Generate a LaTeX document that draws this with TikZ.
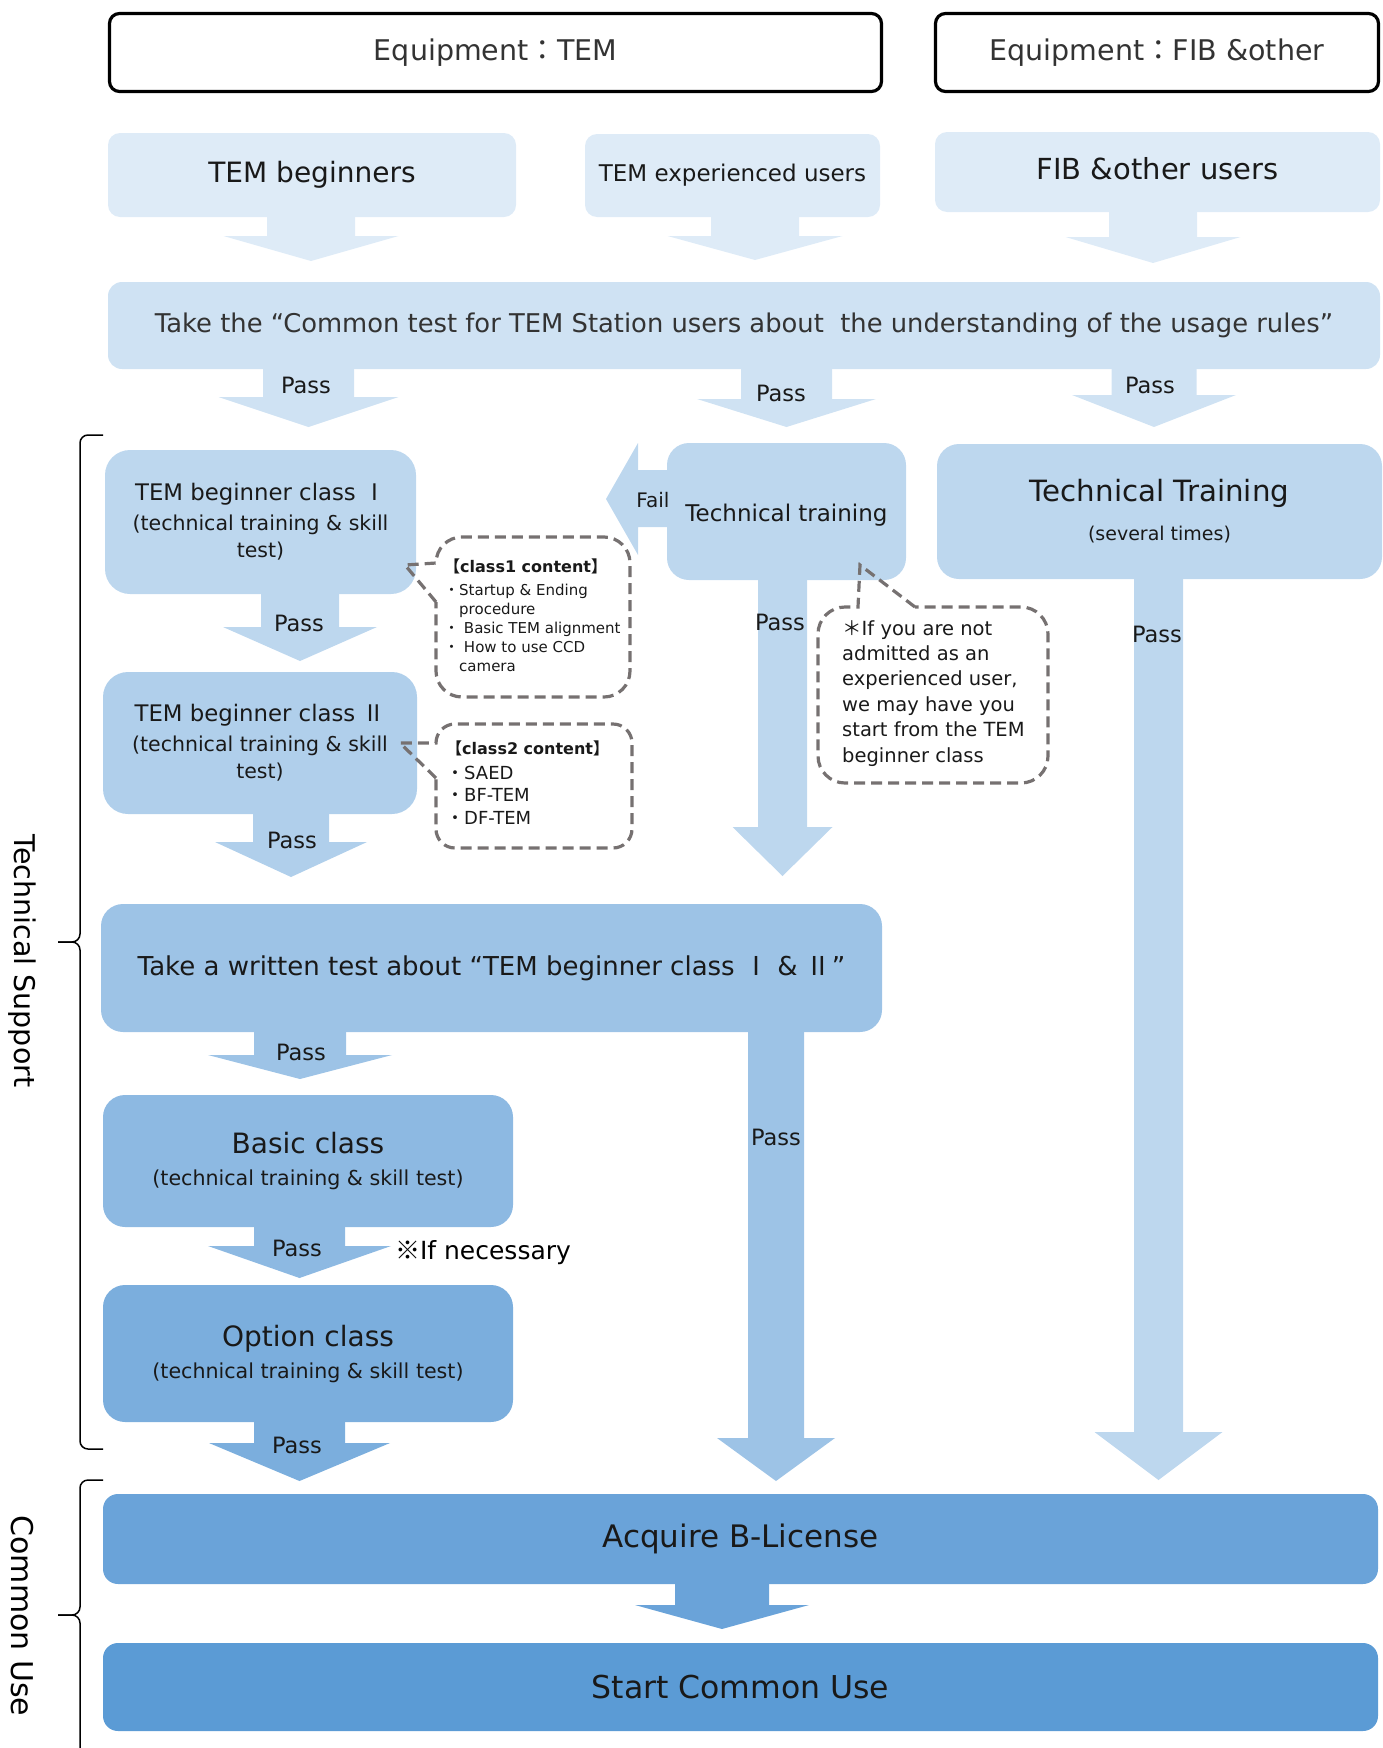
\documentclass[tikz,border=0pt]{standalone}
\usepackage{fontspec}
\setmainfont{DejaVu Sans}
\newfontfamily\cjk{Noto Sans CJK JP}
\usetikzlibrary{decorations.pathreplacing}

\newcommand{\ja}[1]{{\cjk #1}}
\newcommand{\fs}[2]{\fontsize{#1}{#2}\selectfont}

\definecolor{usrblue}{HTML}{DEEBF7}
\definecolor{testblue}{HTML}{CFE2F3}
\definecolor{trainblue}{HTML}{BDD7EE}
\definecolor{clsAblue}{HTML}{BDD7EE}
\definecolor{clsBblue}{HTML}{B0CFEB}
\definecolor{writblue}{HTML}{9DC3E6}
\definecolor{basicblue}{HTML}{8DB9E2}
\definecolor{optblue}{HTML}{7BAEDD}
\definecolor{acqblue}{HTML}{6AA3D9}
\definecolor{startblue}{HTML}{5B9BD5}
\definecolor{notegray}{HTML}{767171}

\tikzset{
	hdrbox/.style={draw=black, line width=3.2pt, rounded corners=10pt, fill=white, text=black!80, font=\fs{28.5}{34}},
	flowbox/.style={rounded corners=22pt, align=center, inner sep=0pt, text=black!90},
	passlbl/.style={inner sep=0pt, text=black!90, font=\fs{22.5}{27}},
	notebox/.style={draw=notegray, line width=3.2pt, dash pattern=on 11pt off 6pt},
	notetext/.style={anchor=north west, align=left, inner sep=0pt, text=black!90},
}

% block arrow: colour, source node, x, neck y, tip y, half shaft, half head
\newcommand{\blockdown}[7]{%
	\path (#2.south) ++(0,-3) coordinate (arrtop);
	\fill[#1] (#3-#6,0 |- arrtop) -- (#3+#6,0 |- arrtop) -- (#3+#6,#4) -- (#3+#7,#4) -- (#3,#5) -- (#3-#7,#4) -- (#3-#6,#4) -- cycle;}

\begin{document}
\begin{tikzpicture}[x=1pt, y=-1pt]
	\useasboundingbox (0,0) rectangle (1383,1748);

	\node[hdrbox, minimum width=772pt, minimum height=78pt] (eqtem) at (495.5,52.5) {Equipment\ja{：}TEM};
	\node[hdrbox, minimum width=443pt, minimum height=78pt] (eqfib) at (1157,52.5) {Equipment\ja{：}FIB \&other};

	\node[flowbox, fill=usrblue, rounded corners=12pt, minimum width=408pt, minimum height=84pt, font=\fs{28}{34}] (beg) at (312,175) {TEM beginners};
	\node[flowbox, fill=usrblue, rounded corners=12pt, minimum width=295pt, minimum height=83pt, font=\fs{23}{28}] (exp) at (732.5,175.5) {TEM experienced users};
	\node[flowbox, fill=usrblue, rounded corners=12pt, minimum width=445pt, minimum height=80pt, font=\fs{29}{34}, text depth=7pt] (fib) at (1157.5,172) {FIB \&other users};

	\node[flowbox, fill=testblue, rounded corners=14pt, minimum width=1272pt, minimum height=87pt, font=\fs{25.8}{30}, text=black!80] (common) at (744,325.5) {Take the “Common test for TEM Station users about\ \ the understanding of the usage rules”};

	\node[flowbox, fill=clsAblue, rounded corners=25pt, minimum width=311pt, minimum height=144pt, font=\fs{20.5}{27.5}] (cls1) at (260.5,522) {{\fs{22.8}{27}TEM beginner class\ \ja{Ⅰ}}\\[2pt](technical training \& skill\\test)};
	\node[flowbox, fill=clsBblue, rounded corners=25pt, minimum width=314pt, minimum height=142pt, font=\fs{20.5}{27.5}] (cls2) at (260,743) {{\fs{22.8}{27}TEM beginner class\ \ja{Ⅱ}}\\[2pt](technical training \& skill\\test)};

	\node[flowbox, fill=trainblue, minimum width=239pt, minimum height=137pt, font=\fs{23}{28}, text height=25.5pt, text depth=5.5pt] (techtr) at (786.5,511.5) {Technical training};
	\node[flowbox, fill=trainblue, minimum width=445pt, minimum height=135pt, font=\fs{19}{39}] (techTR) at (1159.5,511.5) {{\fs{29.3}{35}Technical Training}\\(several times)};

	\node[flowbox, fill=writblue, minimum width=781pt, minimum height=128pt, font=\fs{26}{31}] (written) at (491.5,968) {Take a written test about “TEM beginner class\ \ja{Ⅰ} \& \ja{Ⅱ}”};

	\node[flowbox, fill=basicblue, minimum width=410pt, minimum height=132pt, font=\fs{20.6}{32}] (basic) at (308,1161) {{\fs{28}{34}Basic class}\\(technical training \& skill test)};
	\node[flowbox, fill=optblue, minimum width=410pt, minimum height=137pt, font=\fs{20.6}{32}] (option) at (308,1353.5) {{\fs{28}{34}Option class}\\(technical training \& skill test)};

	\node[flowbox, fill=acqblue, rounded corners=15pt, minimum width=1275pt, minimum height=90pt, font=\fs{31}{37}] (acquire) at (740.5,1539) {Acquire B-License};
	\node[flowbox, fill=startblue, rounded corners=15pt, minimum width=1275pt, minimum height=88pt, font=\fs{31.5}{37}] (start) at (740.5,1687) {Start Common Use};

	\blockdown{usrblue}{beg}{311}{236}{261}{44}{87.5}
	\blockdown{usrblue}{exp}{755}{236}{260}{44}{87.5}
	\blockdown{usrblue}{fib}{1153}{237}{263}{44}{87.5}
	\blockdown{testblue}{common}{308.5}{397}{427}{45.5}{90}
	\blockdown{testblue}{common}{786.5}{399}{427}{45.5}{89.5}
	\blockdown{testblue}{common}{1154}{395}{427}{42.5}{82}
	\blockdown{clsAblue}{cls1}{300}{627}{661}{39}{77}
	\blockdown{clsBblue}{cls2}{291}{842}{877}{38}{76}
	\blockdown{trainblue}{techtr}{782.5}{827}{876}{24.5}{50}
	\blockdown{trainblue}{techTR}{1158.5}{1432}{1480}{24.5}{64}
	\blockdown{writblue}{written}{300}{1055}{1079}{46}{92}
	\blockdown{writblue}{written}{776}{1438}{1481}{28}{59}
	\blockdown{basicblue}{basic}{299.5}{1246}{1278}{45.5}{91.5}
	\blockdown{optblue}{option}{299.5}{1443}{1481}{45.5}{90.5}
	\blockdown{acqblue}{acquire}{722}{1605}{1629}{47}{87}
	\fill[trainblue] ([xshift=3pt]techtr.west |- 0,470) -- (638,470) -- (638,443) -- (606,499) -- (638,555) -- (638,527) -- ([xshift=3pt]techtr.west |- 0,527) -- cycle;

	\node[passlbl] (pass1) at (306,385) {Pass};
	\node[passlbl] (pass2) at (781,393) {Pass};
	\node[passlbl] (pass3) at (1150,385) {Pass};
	\node[passlbl] (pass4) at (299,623) {Pass};
	\node[passlbl] (pass5) at (292,840) {Pass};
	\node[passlbl] (pass6) at (780,622) {Pass};
	\node[passlbl] (pass7) at (1157,634) {Pass};
	\node[passlbl] (pass8) at (301,1052) {Pass};
	\node[passlbl] (pass9) at (776,1137) {Pass};
	\node[passlbl] (pass10) at (297,1248) {Pass};
	\node[passlbl] (pass11) at (297,1445) {Pass};
	\node[passlbl, font=\fs{20}{24}] (fail) at (653,500) {Fail};
	\node[inner sep=0pt, font=\fs{25}{30}] (needed) at (483,1253) {\ja{※}If necessary};

	\draw[notebox] (436,602) -- (405,565) -- (436,563) [rounded corners=26pt] -- (436,537) -- (630,537) -- (630,697) -- (436,697) -- (436,640) [sharp corners] -- cycle;
	\draw[notebox] (436,778) -- (400,743) -- (436,743) [rounded corners=19pt] -- (436,724) -- (632,724) -- (632,848) -- (436,848) -- (436,800) [sharp corners] -- cycle;
	\draw[notebox] (915,607) -- (860,565) -- (858,607) [rounded corners=27pt] -- (818,607) -- (818,783) -- (1048,783) -- (1048,607) -- (970,607) [sharp corners] -- cycle;

	\node[notetext, font=\fs{15}{19}] (cont1) at (444,559) {{\fs{16}{19}\bfseries\ja{【}class1 content\ja{】}}\\[4pt]\ja{・}Startup \& Ending\\\phantom{\ja{・}}procedure\\\ja{・} Basic TEM alignment\\\ja{・} How to use CCD\\\phantom{\ja{・}}camera};
	\node[notetext, font=\fs{18}{22.5}] (cont2) at (446,741) {{\fs{16}{19}\bfseries\ja{【}class2 content\ja{】}}\\[2pt]\ja{・}SAED\\\ja{・}BF-TEM\\\ja{・}DF-TEM};
	\node[notetext, font=\fs{19.5}{25.4}] (expnote) at (842,620) {\ja{＊}If you are not\\admitted as an\\experienced user,\\we may have you\\start from the TEM\\beginner class};

	\draw[line width=1.5pt, rounded corners=8pt] (103,435) -- (80,435) -- (80,942) -- (58,942);
	\draw[line width=1.5pt, rounded corners=8pt] (58,942) -- (80,942) -- (80,1449) -- (103,1449);
	\draw[line width=1.5pt, rounded corners=8pt] (103,1480) -- (80,1480) -- (80,1615) -- (58,1615);
	\draw[line width=1.5pt, rounded corners=8pt] (58,1615) -- (80,1615) -- (80,1760);

	\node[rotate=-90, inner sep=0pt, font=\fs{28.5}{34}] (techsup) at (22,961) {Technical Support};
	\node[rotate=-90, inner sep=0pt, font=\fs{30}{36}] (comuse) at (22,1616) {Common Use};
\end{tikzpicture}
\end{document}
